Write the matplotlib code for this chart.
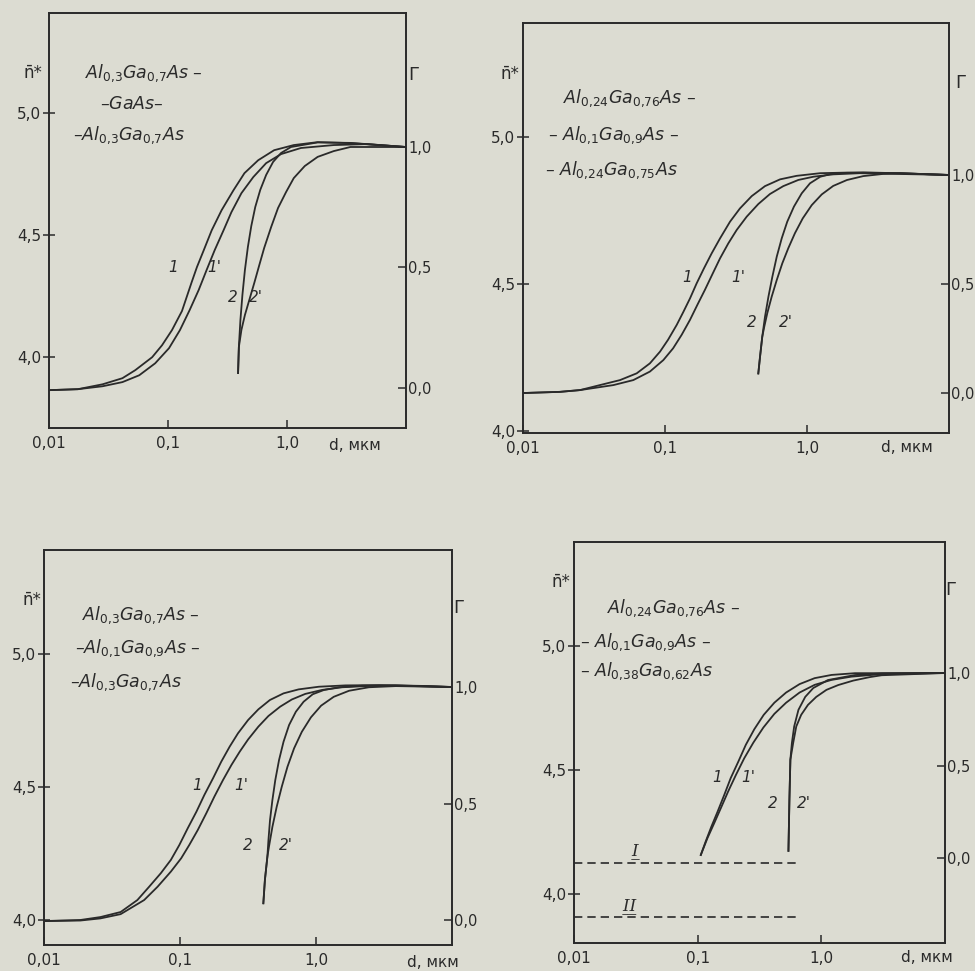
import matplotlib
matplotlib.use("Agg")
import matplotlib.pyplot as plt
from matplotlib.ticker import NullLocator

plt.rcParams['font.family'] = ['DejaVu Sans']
plt.rcParams['mathtext.fontset'] = 'dejavusans'

W, H = 975, 971
BG = '#dcdcd2'
INK = '#2a2a2a'

# Axis ticks (same on all four panels)
x_ticks = [0.01, 0.1, 1.0]
x_tick_labels = ['0,01', '0,1', '1,0']
n_ticks = [4.0, 4.5, 5.0]
n_tick_labels = ['4,0', '4,5', '5,0']
g_ticks = [0.0, 0.5, 1.0]
g_tick_labels = ['0,0', '0,5', '1,0']

# Panel a: Al0.3Ga0.7As - GaAs - Al0.3Ga0.7As
a_d1 = [0.0100, 0.0175, 0.0282, 0.0414, 0.0531, 0.0736, 0.0891, 0.108, 0.131, 0.158, 0.175,
        0.200, 0.233, 0.282, 0.355, 0.439, 0.573, 0.780, 1.14, 1.81, 3.41, 10.0]
a_n1 = [3.865, 3.869, 3.889, 3.914, 3.947, 4.000, 4.049, 4.111, 4.189, 4.307, 4.369,
        4.439, 4.520, 4.602, 4.684, 4.754, 4.807, 4.848, 4.869, 4.881, 4.877, 4.861]
a_d1p = [0.0100, 0.0175, 0.0282, 0.0414, 0.0573, 0.0780, 0.102, 0.126, 0.152, 0.181, 0.211,
         0.247, 0.293, 0.341, 0.414, 0.521, 0.668, 0.891, 1.31, 2.47, 4.73, 10.0]
a_n1p = [3.865, 3.869, 3.881, 3.898, 3.926, 3.975, 4.037, 4.111, 4.193, 4.275, 4.357,
         4.439, 4.520, 4.594, 4.672, 4.738, 4.795, 4.832, 4.857, 4.869, 4.873, 4.861]
a_d2 = [0.388, 0.394, 0.406, 0.422, 0.443, 0.469, 0.501, 0.541, 0.596, 0.668, 0.764, 0.891,
        1.08, 1.81, 3.41, 10.0]
a_g2 = [0.062, 0.170, 0.282, 0.386, 0.490, 0.585, 0.672, 0.751, 0.822, 0.884, 0.938, 0.975,
        1.000, 1.019, 1.017, 1.000]
a_d2p = [0.388, 0.394, 0.414, 0.443, 0.482, 0.531, 0.585, 0.643, 0.736, 0.841, 0.982, 1.14,
         1.41, 1.81, 2.47, 3.41, 10.0]
a_g2p = [0.062, 0.170, 0.241, 0.303, 0.365, 0.436, 0.510, 0.581, 0.668, 0.747, 0.813, 0.871,
         0.921, 0.959, 0.983, 1.000, 1.000]

# Panel b: Al0.24Ga0.76As - Al0.1Ga0.9As - Al0.24Ga0.76As
b_d1 = [0.0100, 0.0182, 0.0252, 0.0348, 0.0482, 0.0632, 0.0783, 0.0923, 0.105, 0.121, 0.135,
        0.150, 0.167, 0.188, 0.213, 0.244, 0.287, 0.337, 0.408, 0.506, 0.646, 0.845, 1.24,
        1.91, 4.52, 10.0]
b_n1 = [4.129, 4.133, 4.139, 4.156, 4.173, 4.196, 4.230, 4.270, 4.310, 4.361, 4.406,
        4.451, 4.502, 4.553, 4.604, 4.655, 4.712, 4.757, 4.799, 4.833, 4.856, 4.868, 4.877,
        4.879, 4.877, 4.871]
b_d1p = [0.0100, 0.0182, 0.0252, 0.0433, 0.0598, 0.0783, 0.0973, 0.114, 0.131, 0.150, 0.169,
         0.191, 0.217, 0.244, 0.279, 0.320, 0.376, 0.454, 0.548, 0.681, 0.869, 1.11, 1.53,
         2.36, 10.0]
b_n1p = [4.129, 4.133, 4.139, 4.156, 4.173, 4.202, 4.241, 4.281, 4.327, 4.378, 4.429,
         4.480, 4.536, 4.587, 4.638, 4.684, 4.729, 4.772, 4.806, 4.833, 4.854, 4.865, 4.873,
         4.877, 4.871]
b_d2 = [0.454, 0.467, 0.484, 0.506, 0.535, 0.570, 0.612, 0.664, 0.726, 0.809, 0.918, 1.05,
        1.24, 1.53, 2.49, 4.52, 10.0]
b_g2 = [0.090, 0.167, 0.258, 0.350, 0.442, 0.533, 0.625, 0.710, 0.786, 0.855, 0.916, 0.962,
        0.992, 1.008, 1.012, 1.008, 1.000]
b_d2p = [0.454, 0.467, 0.484, 0.500, 0.525, 0.564, 0.612, 0.670, 0.738, 0.822, 0.933, 1.08,
         1.27, 1.53, 1.91, 2.49, 3.44, 4.52, 10.0]
b_g2p = [0.090, 0.167, 0.258, 0.304, 0.366, 0.442, 0.518, 0.595, 0.664, 0.733, 0.801, 0.862,
         0.911, 0.950, 0.977, 0.995, 1.005, 1.008, 1.000]

# Panel c: Al0.3Ga0.7As - Al0.1Ga0.9As - Al0.3Ga0.7As
c_d1 = [0.0100, 0.0185, 0.0260, 0.0366, 0.0486, 0.0593, 0.0723, 0.0857, 0.0989, 0.114, 0.132,
        0.151, 0.175, 0.201, 0.232, 0.267, 0.317, 0.377, 0.458, 0.577, 0.745, 1.05, 1.65,
        2.91, 6.10, 10.0]
c_n1 = [3.996, 4.000, 4.011, 4.030, 4.075, 4.125, 4.176, 4.226, 4.282, 4.345, 4.407,
        4.470, 4.533, 4.595, 4.652, 4.702, 4.752, 4.792, 4.827, 4.852, 4.867, 4.877, 4.882,
        4.883, 4.880, 4.876]
c_d1p = [0.0100, 0.0185, 0.0260, 0.0366, 0.0545, 0.0684, 0.0857, 0.102, 0.117, 0.135, 0.156,
         0.179, 0.207, 0.239, 0.275, 0.317, 0.377, 0.447, 0.545, 0.664, 0.834, 1.11, 1.56,
         2.45, 3.86, 10.0]
c_n1p = [3.996, 3.998, 4.006, 4.022, 4.075, 4.125, 4.182, 4.232, 4.282, 4.338, 4.401,
         4.464, 4.526, 4.583, 4.633, 4.679, 4.727, 4.767, 4.802, 4.829, 4.850, 4.865, 4.875,
         4.880, 4.881, 4.876]
c_d2 = [0.410, 0.421, 0.439, 0.447, 0.459, 0.478, 0.502, 0.535, 0.577, 0.634, 0.711, 0.811,
        0.946, 1.14, 1.47, 2.19, 3.86, 10.0]
c_g2 = [0.072, 0.172, 0.272, 0.343, 0.429, 0.515, 0.601, 0.687, 0.765, 0.837, 0.894, 0.937,
        0.969, 0.987, 0.999, 1.006, 1.007, 1.000]
c_d2p = [0.410, 0.421, 0.439, 0.451, 0.478, 0.514, 0.560, 0.617, 0.690, 0.787, 0.918, 1.09,
         1.35, 1.75, 2.45, 3.86, 10.0]
c_g2p = [0.072, 0.172, 0.272, 0.315, 0.400, 0.486, 0.572, 0.658, 0.737, 0.808, 0.870, 0.920,
         0.958, 0.984, 0.999, 1.004, 1.000]

# Panel d: Al0.24Ga0.76As - Al0.1Ga0.9As - Al0.38Ga0.62As
d_d1 = [0.106, 0.116, 0.129, 0.145, 0.164, 0.185, 0.213, 0.245, 0.287, 0.342, 0.417, 0.519,
        0.667, 0.883, 1.21, 1.87, 3.08, 10.0]
d_n1 = [4.157, 4.211, 4.271, 4.332, 4.399, 4.467, 4.533, 4.601, 4.664, 4.722, 4.771, 4.812,
        4.846, 4.870, 4.883, 4.890, 4.890, 4.891]
d_d1p = [0.106, 0.120, 0.136, 0.154, 0.176, 0.204, 0.238, 0.282, 0.340, 0.417, 0.519, 0.667,
         0.883, 1.21, 1.75, 2.71, 3.08, 10.0]
d_n1p = [4.157, 4.225, 4.285, 4.346, 4.412, 4.480, 4.547, 4.610, 4.671, 4.726, 4.771, 4.812,
         4.843, 4.863, 4.876, 4.884, 4.886, 4.891]
d_d2 = [0.542, 0.552, 0.562, 0.578, 0.603, 0.653, 0.741, 0.861, 1.13, 1.87, 3.08, 10.0]
d_g2 = [0.039, 0.317, 0.532, 0.622, 0.711, 0.801, 0.871, 0.919, 0.962, 0.989, 0.998, 1.000]
d_d2p = [0.542, 0.552, 0.562, 0.592, 0.627, 0.687, 0.780, 0.910, 1.10, 1.37, 1.81, 2.47,
         3.08, 10.0]
d_g2p = [0.039, 0.317, 0.532, 0.622, 0.711, 0.774, 0.828, 0.871, 0.909, 0.935, 0.959, 0.978,
         0.988, 1.000]
# dashed levels I and II
d_lvl_d = [0.01, 0.62]
d_lvl_I = [4.125, 4.125]
d_lvl_d2 = [0.01, 0.66]
d_lvl_II = [3.908, 3.908]

legend_a = [r'$Al_{0{,}3}Ga_{0{,}7}As$ –', r'–$GaAs$–', r'–$Al_{0{,}3}Ga_{0{,}7}As$']
legend_b = [r'$Al_{0{,}24}Ga_{0{,}76}As$ –', r'– $Al_{0{,}1}Ga_{0{,}9}As$ –', r'– $Al_{0{,}24}Ga_{0{,}75}As$']
legend_c = [r'$Al_{0{,}3}Ga_{0{,}7}As$ –', r'–$Al_{0{,}1}Ga_{0{,}9}As$ –', r'–$Al_{0{,}3}Ga_{0{,}7}As$']
legend_d = [r'$Al_{0{,}24}Ga_{0{,}76}As$ –', r'– $Al_{0{,}1}Ga_{0{,}9}As$ –', r'– $Al_{0{,}38}Ga_{0{,}62}As$']
curve_names = ['1', "1'", '2', "2'"]

fig = plt.figure(figsize=(W / 100, H / 100), dpi=100)
fig.patch.set_facecolor(BG)


def ftext(x, y, s, **kw):
    # place text by pixel position on the page
    kw.setdefault('color', INK)
    fig.text(x / W, 1 - y / H, s, **kw)


def add_panel(box, n_lim, g_lim, curves):
    left, top, right, bottom = box
    ax = fig.add_axes([left / W, 1 - bottom / H, (right - left) / W, (bottom - top) / H])
    ax.set_facecolor('none')
    ax.set_xscale('log')
    ax.set_xlim(0.01, 10)
    ax.set_ylim(*n_lim)
    ax.set_xticks(x_ticks, x_tick_labels)
    ax.xaxis.set_minor_locator(NullLocator())
    ax.set_yticks(n_ticks, n_tick_labels)
    ax.tick_params(axis='x', direction='in', length=6, width=1.1, color=INK,
                   labelsize=11, labelcolor=INK, pad=6)
    ax.tick_params(axis='y', direction='inout', length=9, width=1.1, color=INK,
                   labelsize=11, labelcolor=INK, pad=1)
    gx = ax.twinx()
    gx.set_ylim(*g_lim)
    gx.set_yticks(g_ticks, g_tick_labels)
    gx.tick_params(axis='y', direction='in', length=6, width=1.1, color=INK,
                   labelsize=10.5, labelcolor=INK, pad=1.5)
    for a in (ax, gx):
        for sp in a.spines.values():
            sp.set_color(INK)
            sp.set_linewidth(1.2)
    d1, n1, d1p, n1p, d2, g2, d2p, g2p = curves
    for xs, ys, a in ((d1, n1, ax), (d1p, n1p, ax), (d2, g2, gx), (d2p, g2p, gx)):
        a.plot(xs, ys, color=INK, lw=1.3, solid_joinstyle='round')
    return ax, gx


# --- panel a (top left)
add_panel((49, 13, 406, 428), (3.71, 5.41), (-0.166, 1.556),
          (a_d1, a_n1, a_d1p, a_n1p, a_d2, a_g2, a_d2p, a_g2p))
ftext(33, 73, 'n\u0304*', fontsize=12, ha='center', va='center')
ftext(413, 75, 'Γ', fontsize=13, ha='center', va='center')
ftext(355, 445, 'd, мкм', fontsize=11, ha='center', va='center')
for (x, y), s in zip([(85, 73), (100, 104), (73, 135)], legend_a):
    ftext(x, y, s, fontsize=12.5, ha='left', va='center', style='italic')
for (x, y), s in zip([(173, 267), (214, 267), (233, 297), (256, 297)], curve_names):
    ftext(x, y, s, fontsize=11, ha='center', va='center', style='italic')

# --- panel b (top right)
add_panel((523, 23, 949, 433), (3.993, 5.388), (-0.183, 1.697),
          (b_d1, b_n1, b_d1p, b_n1p, b_d2, b_g2, b_d2p, b_g2p))
ftext(510, 74, 'n\u0304*', fontsize=12, ha='center', va='center')
ftext(960, 83, 'Γ', fontsize=13, ha='center', va='center')
ftext(907, 447, 'd, мкм', fontsize=11, ha='center', va='center')
for (x, y), s in zip([(563, 98), (548, 135), (545, 170)], legend_b):
    ftext(x, y, s, fontsize=12.5, ha='left', va='center', style='italic')
for (x, y), s in zip([(687, 277), (738, 277), (752, 322), (786, 322)], curve_names):
    ftext(x, y, s, fontsize=11, ha='center', va='center', style='italic')

# --- panel c (bottom left)
add_panel((44, 550, 452, 945), (3.906, 5.391), (-0.107, 1.588),
          (c_d1, c_n1, c_d1p, c_n1p, c_d2, c_g2, c_d2p, c_g2p))
ftext(32, 600, 'n\u0304*', fontsize=12, ha='center', va='center')
ftext(458, 608, 'Γ', fontsize=13, ha='center', va='center')
ftext(433, 962, 'd, мкм', fontsize=11, ha='center', va='center')
for (x, y), s in zip([(82, 615), (75, 648), (70, 682)], legend_c):
    ftext(x, y, s, fontsize=12.5, ha='left', va='center', style='italic')
for (x, y), s in zip([(197, 785), (241, 785), (248, 845), (286, 845)], curve_names):
    ftext(x, y, s, fontsize=11, ha='center', va='center', style='italic')

# --- panel d (bottom right)
ax4, gx4 = add_panel((574, 542, 945, 943), (3.802, 5.419), (-0.459, 1.708),
                     (d_d1, d_n1, d_d1p, d_n1p, d_d2, d_g2, d_d2p, d_g2p))
ax4.plot(d_lvl_d, d_lvl_I, color=INK, lw=1.2, ls=(0, (5, 3)))
ax4.plot(d_lvl_d2, d_lvl_II, color=INK, lw=1.2, ls=(0, (5, 3)))
ftext(561, 582, 'n\u0304*', fontsize=12, ha='center', va='center')
ftext(950, 590, 'Γ', fontsize=13, ha='center', va='center')
ftext(927, 957, 'd, мкм', fontsize=11, ha='center', va='center')
for (x, y), s in zip([(607, 608), (580, 642), (580, 671)], legend_d):
    ftext(x, y, s, fontsize=12.5, ha='left', va='center', style='italic')
for (x, y), s in zip([(717, 777), (748, 777), (773, 803), (804, 803)], curve_names):
    ftext(x, y, s, fontsize=11, ha='center', va='center', style='italic')
ftext(636, 851, 'I\u0332', fontsize=12, ha='center', va='center',
      family='DejaVu Serif', style='italic')
ftext(630, 906, 'I\u0332I\u0332', fontsize=12, ha='center', va='center',
      family='DejaVu Serif', style='italic')

fig.savefig('out.png', dpi=100, facecolor=BG)
